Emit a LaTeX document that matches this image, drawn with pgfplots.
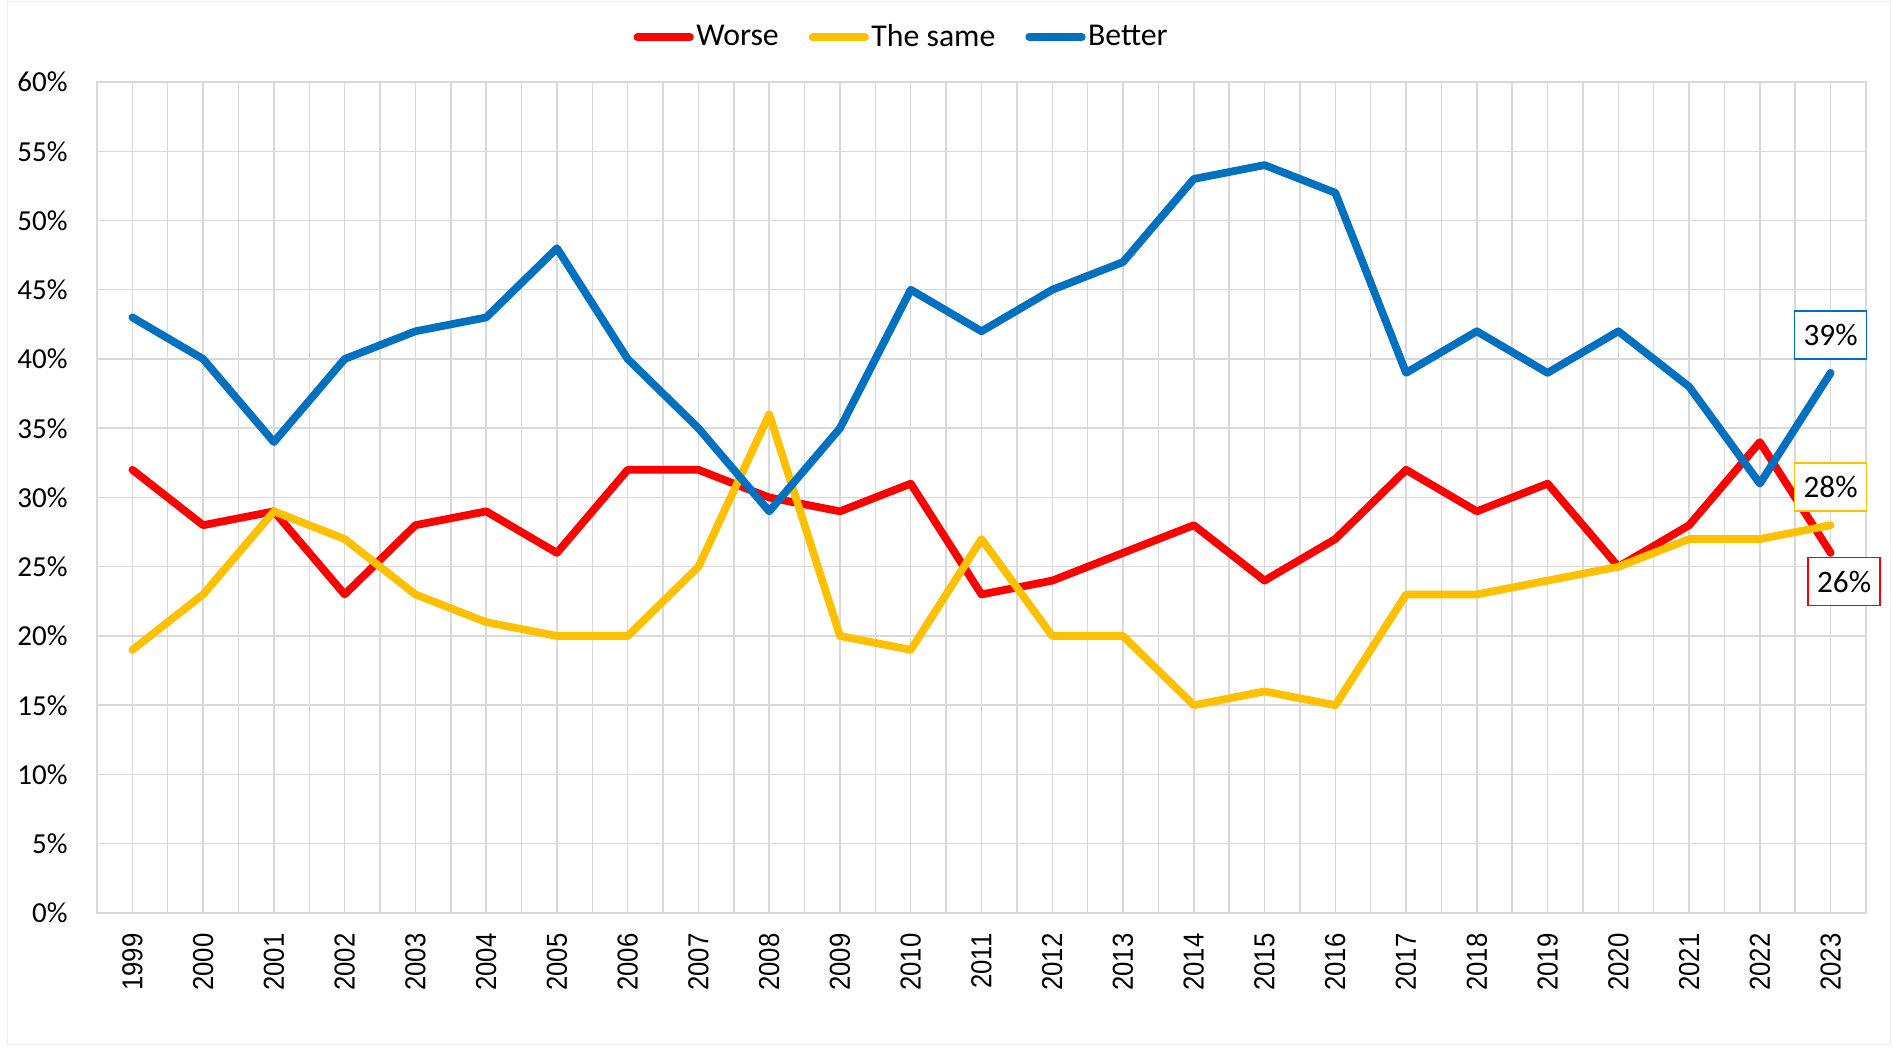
\documentclass[border=0pt]{standalone}
\usepackage{pgfplots}
\pgfplotsset{compat=1.18}
\usepackage{fontspec}
\setmainfont{Carlito}
\newfontfamily\xfont{Liberation Sans}
\definecolor{cWorse}{HTML}{FF0000}
\definecolor{cSame}{HTML}{FFC000}
\definecolor{cBetter}{HTML}{0070C0}
\definecolor{gridgray}{HTML}{D9D9D9}
\begin{document}
\begin{tikzpicture}
\useasboundingbox (-38.8pt,-54pt) rectangle (718.4pt,365.2pt);
\draw[color=black!7, line width=0.4pt] (-35.6pt,-52.8pt) rectangle (717.2pt,364.4pt);
\begin{axis}[
  at={(0pt,0pt)}, anchor=south west,
  scale only axis, width=707.6pt, height=332.4pt,
  xmin=1998.5, xmax=2023.5, ymin=0, ymax=60,
  clip=false,
  xtick={1999,2000,...,2023},
  minor xtick={1998.5,1999.5,...,2023.5},
  ytick={0,5,...,60},
  grid=both,
  major grid style={draw=gridgray, line width=0.6pt},
  minor grid style={draw=gridgray, line width=0.6pt},
  axis line style={draw=gridgray, line width=0.6pt},
  major tick length=0pt, minor tick length=0pt,
  /pgf/number format/assume math mode=true,
  yticklabel={\fontsize{11.6}{14}\selectfont\pgfmathprintnumber{\tick}\%},
  yticklabel style={anchor=east, inner xsep=0pt, xshift=-11.6pt},
  xticklabel={\scalebox{1}[1.12]{\xfont\fontsize{10.3}{12}\selectfont\pgfmathprintnumber[1000 sep={}]{\tick}}},
  xticklabel style={rotate=90, anchor=east, inner xsep=0pt, xshift=-8pt},
  legend style={at={(0.455,1.054)}, anchor=center, draw=none, fill=none,
    legend columns=3, font=\fontsize{12.7}{15}\selectfont,
    nodes={inner xsep=1pt},
    /tikz/every odd column/.append style={column sep=0pt},
    /tikz/every even column/.append style={column sep=11pt}},
  legend image code/.code={\draw[#1, line width=3.1pt, line cap=round] (1.5pt,0pt) -- (22.5pt,0pt);},
  every axis plot/.append style={line width=3.1pt, line join=round, line cap=round, mark=none},
]
\addplot[color=cWorse] coordinates {
(1999,32) (2000,28) (2001,29) (2002,23) (2003,28) (2004,29) (2005,26) (2006,32)
(2007,32) (2008,30) (2009,29) (2010,31) (2011,23) (2012,24) (2013,26) (2014,28)
(2015,24) (2016,27) (2017,32) (2018,29) (2019,31) (2020,25) (2021,28) (2022,34) (2023,26)};
\addlegendentry{Worse}
\addplot[color=cSame] coordinates {
(1999,19) (2000,23) (2001,29) (2002,27) (2003,23) (2004,21) (2005,20) (2006,20)
(2007,25) (2008,36) (2009,20) (2010,19) (2011,27) (2012,20) (2013,20) (2014,15)
(2015,16) (2016,15) (2017,23) (2018,23) (2019,24) (2020,25) (2021,27) (2022,27) (2023,28)};
\addlegendentry{The same}
\addplot[color=cBetter] coordinates {
(1999,43) (2000,40) (2001,34) (2002,40) (2003,42) (2004,43) (2005,48) (2006,40)
(2007,35) (2008,29) (2009,35) (2010,45) (2011,42) (2012,45) (2013,47) (2014,53)
(2015,54) (2016,52) (2017,39) (2018,42) (2019,39) (2020,42) (2021,38) (2022,31) (2023,39)};
\addlegendentry{Better}
\node[draw=cBetter, fill=white, line width=0.6pt, minimum width=28.8pt, minimum height=19.2pt, inner sep=0pt, font=\fontsize{12.5}{15}\selectfont] at (axis cs:2023,41.73) {39\%};
\node[draw=cSame, fill=white, line width=0.6pt, minimum width=28.8pt, minimum height=19.2pt, inner sep=0pt, font=\fontsize{12.5}{15}\selectfont] at (axis cs:2023,30.76) {28\%};
\node[draw=cWorse, fill=white, line width=0.6pt, minimum width=28.8pt, minimum height=19.2pt, inner sep=0pt, font=\fontsize{12.5}{15}\selectfont] at (axis cs:2023.19,23.93) {26\%};
\end{axis}
\end{tikzpicture}
\end{document}
